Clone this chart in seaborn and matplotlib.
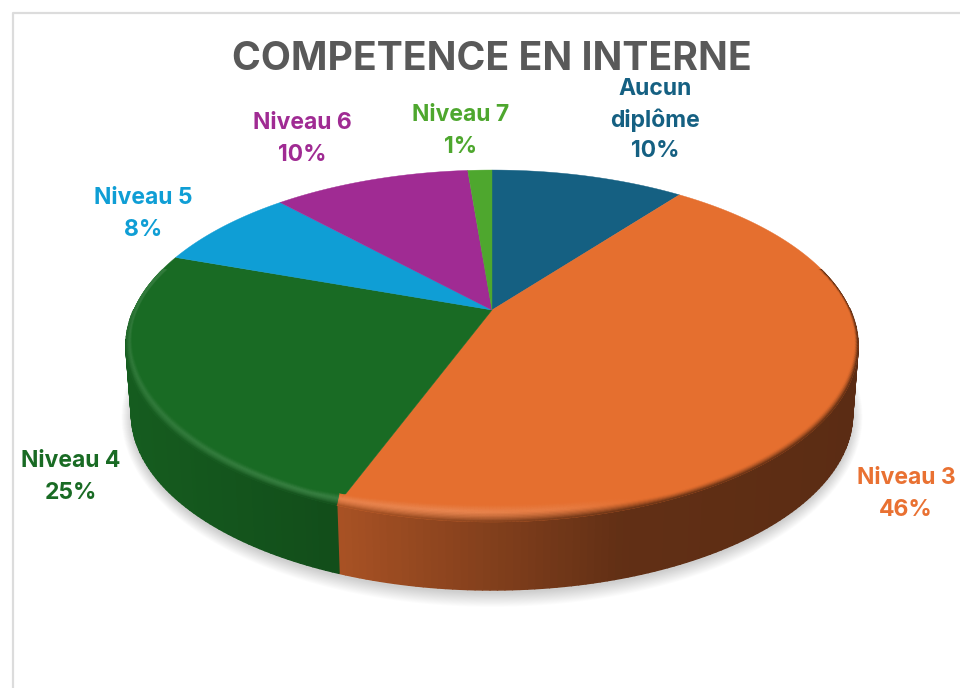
import numpy as np
import matplotlib
matplotlib.use("Agg")
import matplotlib.pyplot as plt
from matplotlib.collections import PolyCollection
import seaborn as sns

title = "COMPETENCE EN INTERNE"
categories = ["Aucun\ndiplôme", "Niveau 3", "Niveau 4", "Niveau 5", "Niveau 6", "Niveau 7"]
values = [10.4, 45.3, 24.7, 7.7, 10.6, 1.3]
shown = ["10%", "46%", "25%", "8%", "10%", "1%"]
hex_colors = ["#156082", "#E97132", "#196B24", "#0F9ED5", "#A02B93", "#4EA72E"]
top_colors = ["#156082", "#E56F2F", "#196B24", "#0F9ED5", "#A02B93", "#4EA72E"]
label_x = [655, 906, 71, 143, 302, 461]
label_y = [120, 494, 477, 214, 139, 131]
label_spacing = [1.46, 1.56, 1.56, 1.56, 1.56, 1.56]

sns.set_theme(style="white")
plt.rcParams["font.family"] = ["Inter", "Open Sans", "DejaVu Sans"]
palette = sns.color_palette(hex_colors)
top_palette = sns.color_palette(top_colors)

fig, ax = plt.subplots(figsize=(9.6, 6.88), dpi=100)
ax.set_position([0, 0, 1, 1])
ax.set_xlim(0, 960)
ax.set_ylim(688, 0)
ax.axis("off")

# Frame of the pasted chart
ax.plot([12.5, 12.5, 960], [688, 12.5, 12.5], color="#DCDCDC", lw=1.6, zorder=0)

CX, CY, A, B, P = 492.0, 310.0, 358.3, 168.6, 0.2045
DEPTH, SHRINK = 68.0, 0.985


def project(theta, r=1.0, drop=0.0):
    u, v = r * np.sin(theta), r * np.cos(theta)
    w = 1 + P * v
    scale = 1 - (1 - SHRINK) * drop / DEPTH
    return CX + scale * A * u / w, CY - B * v / w + drop


edges = np.cumsum([0] + values) / np.sum(values) * 2 * np.pi
slices = list(zip(edges[:-1], edges[1:]))

# Soft ground shadow
tt = np.linspace(0, 2 * np.pi, 361)
for grow in np.linspace(1, 0, 16):
    sx, sy = project(tt, 1.0, DEPTH)
    sx = CX + (sx - CX) * (1 + 10 * grow / 360)
    sy = 414 + 3 + (sy - 414) * (1 + 14 * grow / 176)
    ax.fill(sx, sy, color="black", alpha=0.012, lw=0, zorder=1)

# Extruded wall
side_x = [130, 340, 620, 860]
side_f = [0.86, 0.72, 0.42, 0.39]


def wall_factor(x):
    return np.interp(x, side_x, side_f)


quads, cols = [], []
for (a0, a1), col in zip(slices, palette):
    th = np.linspace(a0, a1, max(3, int((a1 - a0) * 60)))
    for t0, t1 in zip(th[:-1], th[1:]):
        if np.cos((t0 + t1) / 2) > 0.0:
            continue
        x0, y0 = project(t0)
        x1, y1 = project(t1)
        x2, y2 = project(t1, 1.0, DEPTH)
        x3, y3 = project(t0, 1.0, DEPTH)
        quads.append([(x0, y0), (x1, y1), (x2, y2), (x3, y3)])
        cols.append(tuple(np.array(col) * wall_factor((x0 + x1) / 2)))
ax.add_collection(PolyCollection(quads, facecolors=cols, edgecolors=cols, lw=1.1, zorder=2))

# Flat top of the pie
for (a0, a1), col in zip(slices, top_palette):
    th = np.linspace(a0, a1, 200)
    x, y = project(th)
    ax.fill(np.r_[CX, x], np.r_[CY, y], color=col, lw=0.3, zorder=3)

# Bevelled rim: a band rising from the outer edge, base colour -> highlight -> wall colour
BAND, STEPS = 17.0, 12
glow_x = [126, 450, 560, 640, 858]
glow_v = [0.10, 0.16, 0.10, 0.0, 0.0]


def band_point(theta, s):
    x, y = project(theta)
    u = np.sin(theta)
    h = BAND * np.clip((0.25 - np.cos(theta)) / 0.6, 0, 1) * max(0.55, 1 - 2.6 * u * u)
    return x - (x - CX) * 0.016 * (1 - s), y - h * (1 - s)


quads, cols = [], []
for (a0, a1), col in zip(slices, top_palette):
    th = np.linspace(a0, a1, max(3, int((a1 - a0) * 120)))
    base = np.array(col)
    for t0, t1 in zip(th[:-1], th[1:]):
        tm = (t0 + t1) / 2
        if np.cos(tm) >= 0.25:
            continue
        xm, _ = project(tm)
        glow = np.interp(xm, glow_x, glow_v)
        peak = base + (1 - base) * glow
        wall = base * wall_factor(xm)
        fade = 1.0 if xm > CX else np.clip((0.1 - np.cos(tm)) / 0.4, 0, 1)
        for k in range(STEPS):
            s = (k + 0.5) / STEPS
            if s < 0.4:
                c = base + (peak - base) * (s / 0.4)
            else:
                mix = np.clip((s - 0.4) / 0.6, 0, 1) ** 1.5 * fade
                c = peak + (wall - peak) * mix
            pts = [band_point(t0, k / STEPS), band_point(t1, k / STEPS),
                   band_point(t1, (k + 1) / STEPS), band_point(t0, (k + 1) / STEPS)]
            quads.append(pts)
            cols.append(tuple(c))
ax.add_collection(PolyCollection(quads, facecolors=cols, edgecolors=cols, lw=0.4, zorder=4))

# Texts
ax.text(492, 59.5, title, ha="center", va="center", fontsize=28.2, fontweight="bold",
        color="#595959", zorder=6)
for name, pct, col, lx, ly, sp in zip(categories, shown, palette, label_x, label_y, label_spacing):
    ax.text(lx, ly, f"{name}\n{pct}", ha="center", va="center", fontsize=16.5,
            fontweight="bold", color=col, linespacing=sp, zorder=6)

fig.savefig("out.png", dpi=100, facecolor="white")
